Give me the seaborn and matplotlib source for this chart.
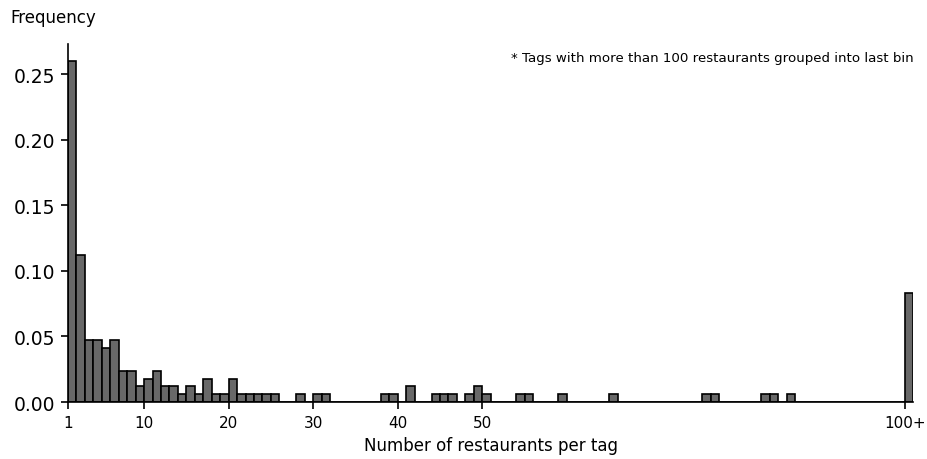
import numpy as np
import pandas as pd
import matplotlib
matplotlib.use("Agg")
import matplotlib.pyplot as plt
import seaborn as sns

# Number of restaurants per tag (100 = "100+") and how many tags have it
n_restaurants = [1, 2, 3, 4, 5, 6, 7, 8, 9, 10, 11, 12, 13, 14, 15, 16, 17, 18, 19, 20,
                 21, 22, 23, 24, 25, 28, 30, 31, 38, 39, 41, 44, 45, 46, 48, 49, 50,
                 54, 55, 59, 65, 76, 77, 83, 84, 86, 100]
n_tags = [44, 19, 8, 8, 7, 8, 4, 4, 2, 3, 4, 2, 2, 1, 2, 1, 3, 1, 1, 3,
          1, 1, 1, 1, 1, 1, 1, 1, 1, 1, 2, 1, 1, 1, 1, 2, 1,
          1, 1, 1, 1, 1, 1, 1, 1, 1, 14]

tick_values = [1, 10, 20, 30, 40, 50, 100]
tick_labels = ["1", "10", "20", "30", "40", "50", "100+"]

df = pd.DataFrame({"restaurants": n_restaurants, "tags": n_tags})

sns.set_style("white")
plt.rcParams["font.family"] = ["DejaVu Sans"]
plt.rcParams["text.color"] = "black"
plt.rcParams["axes.labelcolor"] = "black"

fig = plt.figure(figsize=(9.27, 4.6), dpi=100)
ax = fig.add_axes([0.0734, 0.1239, 0.912, 0.779])

sns.histplot(data=df, x="restaurants", weights="tags", bins=list(range(1, 102)),
             stat="probability", color="#686868", edgecolor="black",
             linewidth=1.2, alpha=1, ax=ax)

ax.set_xlim(1, 101)
ax.set_xticks(tick_values)
ax.set_xticklabels(tick_labels, fontsize=11)
ax.set_yticks([0, 0.05, 0.10, 0.15, 0.20, 0.25])
ax.set_yticklabels(["0.00", "0.05", "0.10", "0.15", "0.20", "0.25"], fontsize=13.5)
ax.tick_params(axis="both", direction="out", length=5, width=1.2, colors="black",
               labelcolor="black", bottom=True, left=True, pad=4)
ax.set_xlabel("Number of restaurants per tag", fontsize=12, labelpad=5)
ax.set_ylabel("")
for s in ["left", "bottom"]:
    ax.spines[s].set_color("black")
    ax.spines[s].set_linewidth(1.2)
sns.despine(ax=ax)

fig.text(10 / 927, 1 - 18 / 460, "Frequency", fontsize=12, va="center", ha="left")
ax.text(1.0, 0.96, "* Tags with more than 100 restaurants grouped into last bin",
        transform=ax.transAxes, ha="right", va="center", fontsize=9.6)

fig.savefig("out.png", dpi=100)
